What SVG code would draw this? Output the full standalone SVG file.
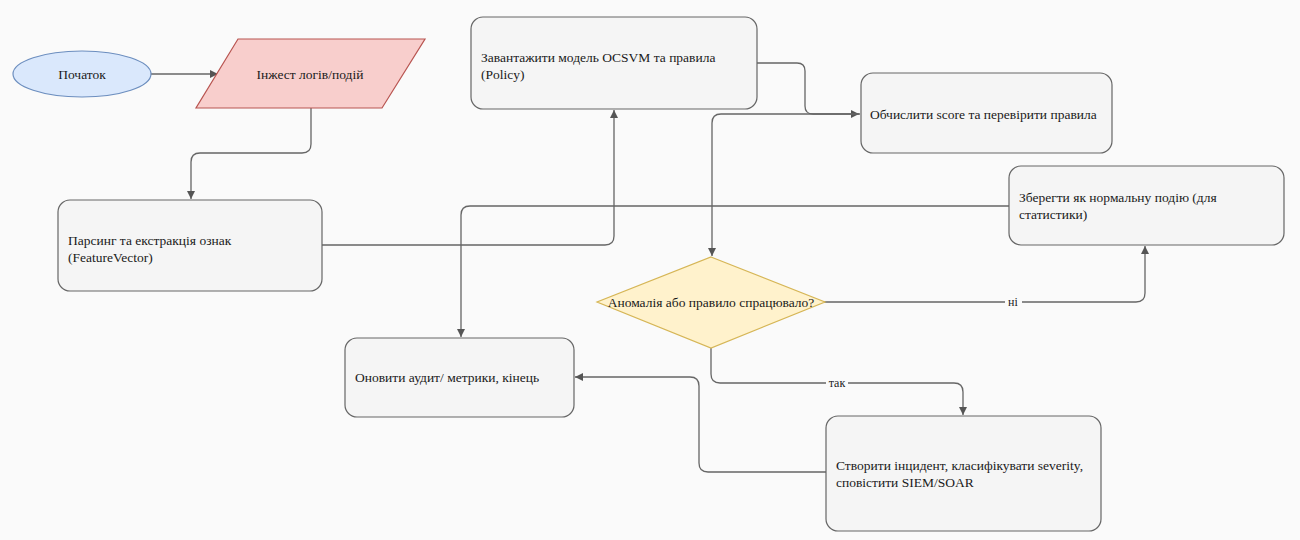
<svg xmlns="http://www.w3.org/2000/svg" width="1300" height="540" viewBox="0 0 1300 540">
  <style>
    .proc { fill: #f5f5f5; stroke: #666666; stroke-width: 1.2; }
    .lbl { font-family: "Liberation Serif", "Times New Roman", serif; font-size: 13.5px; fill: #1a1a1a; }
    .mid { text-anchor: middle; dominant-baseline: central; }
    .edge { fill: none; stroke: #666666; stroke-width: 1.3; }
    .elbl { font-family: "Liberation Serif", "Times New Roman", serif; font-size: 12px; fill: #1a1a1a; text-anchor: middle; dominant-baseline: central; }
    .ebg { fill: #fafafa; }
  </style>
  <defs>
    <marker id="arrow" viewBox="0 0 10 10" refX="10" refY="5" markerWidth="8" markerHeight="8" markerUnits="userSpaceOnUse" orient="auto">
      <path d="M0,0 L10,5 L0,10 Z" fill="#555555"/>
    </marker>
  </defs>

  <rect width="1300" height="540" fill="#fafafa"/>

  <!-- connectors -->
  <g id="edges">
    <path class="edge" d="M151 74 H218" marker-end="url(#arrow)"/>
    <path class="edge" d="M311 108 V144 Q311 153 302 153 H200 Q191 153 191 162 V199" marker-end="url(#arrow)"/>
    <path class="edge" d="M322 245 H605 Q614 245 614 236 V110" marker-end="url(#arrow)"/>
    <path class="edge" d="M757 63 H797 Q805 63 805 71 V106 Q805 114 813 114 H859" marker-end="url(#arrow)"/>
    <path class="edge" d="M860 114 H721 Q712 114 712 123 V256" marker-end="url(#arrow)"/>
    <path class="edge" d="M824 302 H1136 Q1145 302 1145 293 V246" marker-end="url(#arrow)"/>
    <path class="edge" d="M711 348 V374 Q711 383 720 383 H954 Q963 383 963 392 V415" marker-end="url(#arrow)"/>
    <path class="edge" d="M826 472 H708 Q699 472 699 463 V386 Q699 377 690 377 H575" marker-end="url(#arrow)"/>
    <path class="edge" d="M1009 206 H470 Q461 206 461 215 V337" marker-end="url(#arrow)"/>
    <rect class="ebg" x="1005" y="295" width="17" height="14"/>
    <text class="elbl" x="1013" y="302">ні</text>
    <rect class="ebg" x="826" y="376" width="22" height="14"/>
    <text class="elbl" x="837" y="383">так</text>
  </g>

  <!-- nodes -->
  <g id="start">
    <ellipse cx="82" cy="74" rx="69" ry="23" fill="#dae8fc" stroke="#6c8ebf" stroke-width="1.2"/>
    <text class="lbl mid" x="82" y="74">Початок</text>
  </g>
  <g id="ingest">
    <polygon points="238,39 425,39 382,108 196,108" fill="#f8cecc" stroke="#b85450" stroke-width="1.2"/>
    <text class="lbl mid" x="310" y="74">Інжест логів/подій</text>
  </g>
  <g id="parse">
    <rect class="proc" x="58" y="200" width="264" height="91" rx="12"/>
    <text class="lbl" x="68" y="245">Парсинг та екстракція ознак</text>
    <text class="lbl" x="68" y="262">(FeatureVector)</text>
  </g>
  <g id="load">
    <rect class="proc" x="471" y="17" width="286" height="92" rx="12"/>
    <text class="lbl" x="481" y="62">Завантажити модель OCSVM та правила</text>
    <text class="lbl" x="481" y="79">(Policy)</text>
  </g>
  <g id="score">
    <rect class="proc" x="861" y="73" width="251" height="80" rx="12"/>
    <text class="lbl" x="870" y="119">Обчислити score та перевірити правила</text>
  </g>
  <g id="normal">
    <rect class="proc" x="1009" y="166" width="275" height="79" rx="12"/>
    <text class="lbl" x="1019" y="202">Зберегти як нормальну подію (для</text>
    <text class="lbl" x="1019" y="219">статистики)</text>
  </g>
  <g id="decision">
    <polygon points="711,257 825,302 711,348 597,302" fill="#fff2cc" stroke="#d6b656" stroke-width="1.2"/>
    <text class="lbl mid" x="711" y="302">Аномалія або правило спрацювало?</text>
  </g>
  <g id="audit">
    <rect class="proc" x="345" y="338" width="229" height="79" rx="12"/>
    <text class="lbl" x="355" y="382">Оновити аудит/ метрики, кінець</text>
  </g>
  <g id="incident">
    <rect class="proc" x="826" y="416" width="275" height="115" rx="12"/>
    <text class="lbl" x="836" y="470">Створити інцидент, класифікувати severity,</text>
    <text class="lbl" x="836" y="487">сповістити SIEM/SOAR</text>
  </g>
</svg>
